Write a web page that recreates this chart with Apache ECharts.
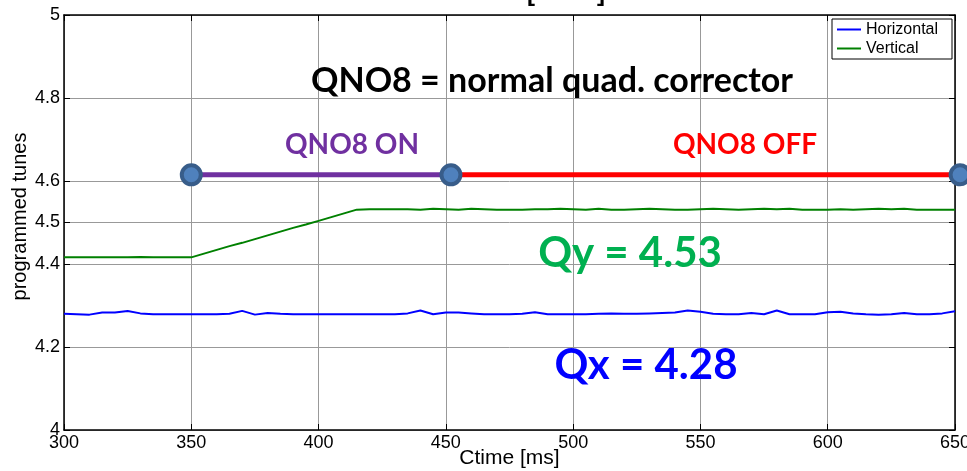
<!DOCTYPE html>
<html>
<head>
<meta charset="utf-8">
<style>html,body{margin:0;padding:0;background:#fff}#main{width:967px;height:471px}</style>
<script src="https://cdn.jsdelivr.net/npm/echarts@6/dist/echarts.min.js"></script>
</head>
<body>
<div id="main"></div>
<script>
// Ctime [ms]
var times = [300, 305, 310, 315, 320, 325, 330, 335, 340, 345,
    350, 355, 360, 365, 370, 375, 380, 385, 390, 395,
    400, 405, 410, 415, 420, 425, 430, 435, 440, 445,
    450, 455, 460, 465, 470, 475, 480, 485, 490, 495,
    500, 505, 510, 515, 520, 525, 530, 535, 540, 545,
    550, 555, 560, 565, 570, 575, 580, 585, 590, 595,
    600, 605, 610, 615, 620, 625, 630, 635, 640, 645, 650];
// Horizontal tune
var horizontal = [4.280, 4.279, 4.278, 4.283, 4.283, 4.287, 4.281, 4.279, 4.279, 4.279,
    4.279, 4.279, 4.279, 4.280, 4.287, 4.278, 4.282, 4.280, 4.279, 4.279,
    4.279, 4.279, 4.279, 4.279, 4.279, 4.279, 4.279, 4.281, 4.288, 4.279,
    4.283, 4.283, 4.281, 4.279, 4.279, 4.279, 4.280, 4.284, 4.279, 4.279,
    4.279, 4.279, 4.280, 4.281, 4.280, 4.280, 4.281, 4.282, 4.283, 4.288,
    4.285, 4.280, 4.279, 4.279, 4.282, 4.279, 4.288, 4.279, 4.279, 4.279,
    4.284, 4.285, 4.281, 4.279, 4.278, 4.279, 4.282, 4.279, 4.279, 4.281, 4.286];
// Vertical tune
var vertical = [4.416, 4.416, 4.416, 4.416, 4.416, 4.416, 4.417, 4.416, 4.416, 4.416,
    4.416, 4.425, 4.434, 4.443, 4.451, 4.460, 4.469, 4.478, 4.487, 4.495,
    4.504, 4.513, 4.522, 4.531, 4.532, 4.532, 4.532, 4.532, 4.531, 4.533,
    4.532, 4.531, 4.533, 4.532, 4.531, 4.531, 4.531, 4.532, 4.532, 4.533,
    4.532, 4.531, 4.533, 4.531, 4.531, 4.532, 4.533, 4.532, 4.531, 4.531,
    4.532, 4.533, 4.532, 4.531, 4.532, 4.533, 4.532, 4.533, 4.531, 4.531,
    4.531, 4.532, 4.531, 4.532, 4.533, 4.532, 4.533, 4.531, 4.531, 4.531, 4.531];
// QNO8 on / off periods
var onRange = [350, 452];
var offRange = [452, 652];
var switchLevel = 4.615;
var yTicks = [4, 4.2, 4.4, 4.5, 4.6, 4.8, 5];

var font = "'Liberation Sans', Arial, sans-serif";
var chart = echarts.init(document.getElementById('main'));

function pairs(xs, ys) {
    let out = [];
    for (let i = 0; i < xs.length; i++) {
        out.push([xs[i], ys[i]]);
    }
    return out;
}

function label(text, x, y, size, color) {
    return {
        type: 'text', x: x, y: y, z: 50,
        style: {
            text: text, fill: color, fontSize: size, fontWeight: 'bold',
            fontFamily: 'Lato', textAlign: 'center', textVerticalAlign: 'middle'
        }
    };
}

let option = {
    animation: false,
    backgroundColor: '#fff',
    grid: {left: 64, right: 12, top: 15, bottom: 41, outerBoundsMode: 'none', containLabel: false},
    legend: {
        data: ['Horizontal', 'Vertical'],
        orient: 'vertical',
        left: 832, top: 19,
        icon: 'rect', itemWidth: 24, itemHeight: 2, itemGap: 2,
        padding: [2, 5, 2, 5],
        borderColor: '#000', borderWidth: 1, backgroundColor: '#fff',
        textStyle: {fontFamily: font, fontSize: 16, color: '#000', lineHeight: 17, width: 81}
    },
    xAxis: [
        {
            type: 'value', min: 300, max: 650, interval: 50,
            name: 'Ctime [ms]', nameLocation: 'middle', nameGap: 18, nameMoveOverlap: false,
            nameTextStyle: {fontFamily: font, fontSize: 21, color: '#000'},
            axisLine: {lineStyle: {color: '#000', width: 1.5}},
            axisTick: {inside: true, length: 6, lineStyle: {color: '#000'}},
            axisLabel: {fontFamily: font, fontSize: 18, color: '#000', margin: 4},
            splitLine: {lineStyle: {color: '#999', width: 1}}
        },
        {
            type: 'value', min: 300, max: 650, interval: 50, position: 'top',
            axisLine: {lineStyle: {color: '#000', width: 1.5}},
            axisTick: {inside: true, length: 6, lineStyle: {color: '#000'}},
            axisLabel: {show: false},
            splitLine: {show: false}
        }
    ],
    yAxis: [
        {
            type: 'value', min: 4, max: 5, interval: 0.1,
            name: 'programmed tunes', nameLocation: 'middle', nameGap: 34, nameMoveOverlap: false,
            nameTextStyle: {fontFamily: font, fontSize: 20, color: '#000', padding: [0, 0, 0, 12]},
            axisLine: {show: true, lineStyle: {color: '#000', width: 1.5}},
            axisTick: {show: true, inside: true, length: 6, customValues: yTicks, lineStyle: {color: '#000'}},
            axisLabel: {fontFamily: font, fontSize: 18, color: '#000', margin: 4, customValues: yTicks},
            splitLine: {lineStyle: {color: '#999', width: 1}}
        },
        {
            type: 'value', min: 4, max: 5, interval: 0.1, position: 'right',
            axisLine: {show: true, lineStyle: {color: '#000', width: 1.5}},
            axisTick: {show: true, inside: true, length: 6, customValues: yTicks, lineStyle: {color: '#000'}},
            axisLabel: {show: false},
            splitLine: {show: false}
        }
    ],
    series: [
        {
            name: 'Horizontal', type: 'line', showSymbol: false, color: '#0000ff',
            lineStyle: {width: 2}, data: pairs(times, horizontal)
        },
        {
            name: 'Vertical', type: 'line', showSymbol: false, color: '#008000',
            lineStyle: {width: 2}, data: pairs(times, vertical)
        },
        {
            name: 'on', type: 'line', showSymbol: false, clip: false, z: 4, color: '#7030a0',
            lineStyle: {width: 5},
            data: [[onRange[0], switchLevel], [onRange[1], switchLevel]]
        },
        {
            name: 'off', type: 'line', showSymbol: false, clip: false, z: 3, color: '#ff0000',
            lineStyle: {width: 5},
            data: [[offRange[0], switchLevel], [offRange[1], switchLevel]]
        },
        {
            name: 'switch', type: 'scatter', clip: false, z: 6, symbolSize: 19,
            itemStyle: {color: '#4f81bd', borderColor: '#385d8a', borderWidth: 4, opacity: 1},
            data: [[onRange[0], switchLevel], [onRange[1], switchLevel], [offRange[1], switchLevel]]
        }
    ],
    graphic: [
        {type: 'text', x: 527, y: 6, style: {text: '[', fontSize: 24, fontWeight: 'bold', fontFamily: font, fill: '#000', textVerticalAlign: 'bottom'}},
        {type: 'text', x: 597, y: 6, style: {text: ']', fontSize: 24, fontWeight: 'bold', fontFamily: font, fill: '#000', textVerticalAlign: 'bottom'}},
        label('QNO8 = normal quad. corrector', 552, 81, 34, '#000'),
        label('QNO8 ON', 352, 145, 28, '#7030a0'),
        label('QNO8 OFF', 745, 145, 28, '#ff0000'),
        label('Qy = 4.53', 630, 253, 42, '#00b050'),
        label('Qx = 4.28', 646, 365, 42, '#0000ff')
    ]
};
chart.setOption(option);
</script>
</body>
</html>
